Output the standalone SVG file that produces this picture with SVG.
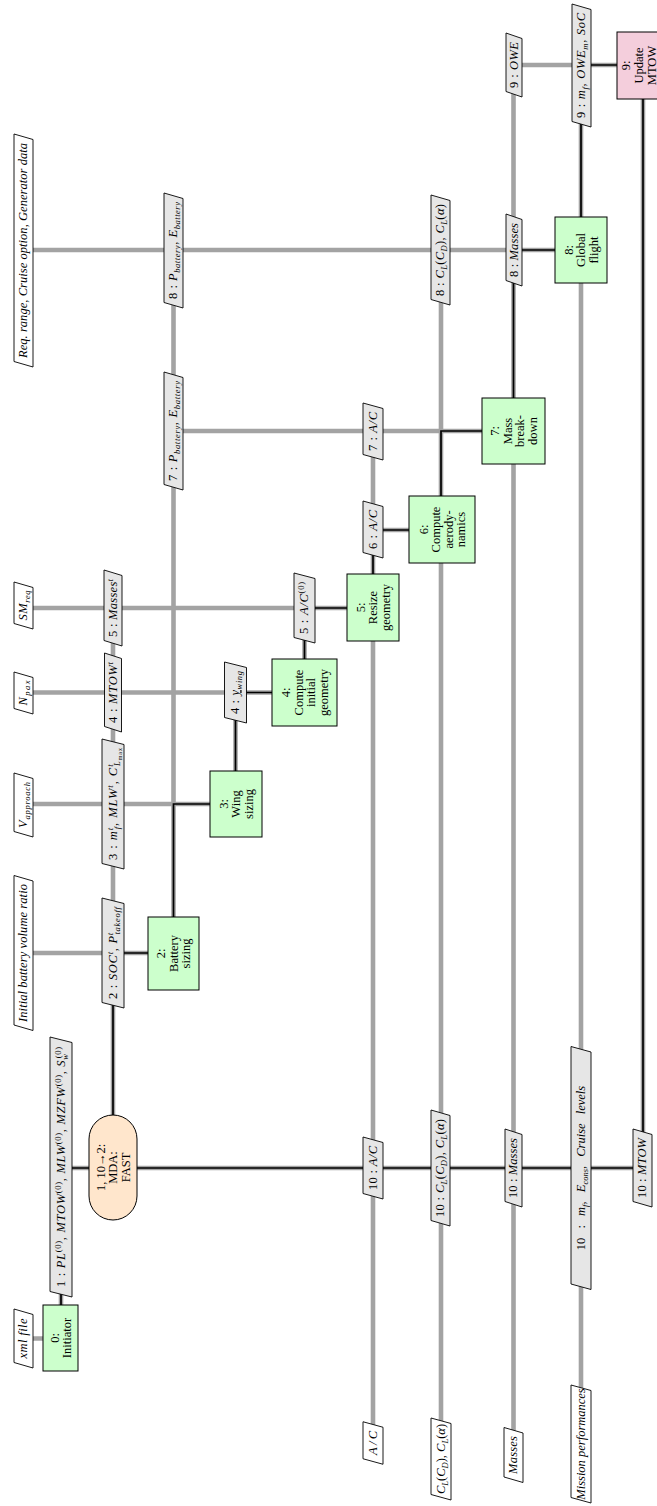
<svg xmlns="http://www.w3.org/2000/svg" width="657" height="1506" viewBox="0 0 657 1506">
<style>
.bg{fill:#fff}
.fn{fill:#ccffcc;stroke:#000;stroke-width:1}
.mda{fill:#ffe6cc;stroke:#000;stroke-width:1}
.up{fill:#f4cedc;stroke:#000;stroke-width:1}
.lb{fill:#e6e6e6;stroke:#000;stroke-width:0.9}
.io{fill:#fff;stroke:#000;stroke-width:0.9}
.dl{fill:none;stroke:#a3a3a3;stroke-width:4.6}
.pl{fill:none;stroke:#000;stroke-width:1.7}
text{font-family:"Liberation Serif","DejaVu Serif",serif;font-size:12.5px;fill:#000}
.nt{font-size:12.5px;text-anchor:middle}
.lt{text-anchor:middle}
.i{font-style:italic}
.sb{font-size:8.5px;baseline-shift:-3px}
.sp{font-size:8.5px;baseline-shift:4.5px}
.ss{font-size:6px;baseline-shift:-5px}
</style>
<rect class="bg" x="0" y="0" width="657" height="1506"/>
<g id="connectors">
<g id="data-lines">
<path class="dl" d="M23,1338.5H61"/>
<path class="dl" d="M61,1168H643"/>
<path class="dl" d="M23,953H173.5"/>
<path class="dl" d="M23,804H235.5"/>
<path class="dl" d="M23,692.5H304.5"/>
<path class="dl" d="M23,608H373"/>
<path class="dl" d="M373,530H441"/>
<path class="dl" d="M173.5,431H513.5"/>
<path class="dl" d="M23,250H581"/>
<path class="dl" d="M513.5,65H643"/>
<path class="dl" d="M61,1168V1338"/>
<path class="dl" d="M113,608V1168"/>
<path class="dl" d="M173.5,250V953"/>
<path class="dl" d="M235.5,692.5V804"/>
<path class="dl" d="M304.5,608V692.5"/>
<path class="dl" d="M373,431V1443"/>
<path class="dl" d="M441,250V1459"/>
<path class="dl" d="M513.5,65V1455"/>
<path class="dl" d="M581,65V1444"/>
<path class="dl" d="M643,65V1168"/>
</g>
<g id="process-lines">
<path class="pl" d="M61,1305V1168H113"/>
<path class="pl" d="M113,1115V953H148"/>
<path class="pl" d="M173.5,917V804H210"/>
<path class="pl" d="M235.5,771V692.5H272"/>
<path class="pl" d="M304.5,659V608H347"/>
<path class="pl" d="M373,574V530H409"/>
<path class="pl" d="M441,496V431H482"/>
<path class="pl" d="M513.5,398V250H555"/>
<path class="pl" d="M581,217V65H617"/>
<path class="pl" d="M643,99V1168H137"/>
</g>
</g>
<g id="labels">
<g id="l1"><polygon class="lb" points="50,1037 72,1042.5 72,1297 50,1291.5"/><text class="lt" transform="translate(64.8,1167) rotate(-90)" textLength="240" lengthAdjust="spacing">1 : <tspan class="i">PL</tspan><tspan class="sp">(0)</tspan>, <tspan class="i">MTOW</tspan><tspan class="sp">(0)</tspan>, <tspan class="i">MLW</tspan><tspan class="sp">(0)</tspan>, <tspan class="i">MZFW</tspan><tspan class="sp">(0)</tspan>, <tspan class="i">S</tspan><tspan class="sb i">w</tspan><tspan class="sp" dx="-5">(0)</tspan></text></g>
<g id="l2"><polygon class="lb" points="102,898 124,903.5 124,1008 102,1002.5"/><text class="lt" transform="translate(116.8,953) rotate(-90)" textLength="92" lengthAdjust="spacing">2 : <tspan class="i">SOC</tspan><tspan class="sp i">t</tspan>, <tspan class="i">P</tspan><tspan class="sp i">t</tspan><tspan class="sb i" dx="-2.4">takeoff</tspan></text></g>
<g id="l3"><polygon class="lb" points="102,739 124,744.5 124,869 102,863.5"/><text class="lt" transform="translate(116.8,804) rotate(-90)" textLength="112" lengthAdjust="spacing">3 : <tspan class="i">m</tspan><tspan class="sp i">t</tspan><tspan class="sb i" dx="-2.4">f</tspan>, <tspan class="i">MLW</tspan><tspan class="sp i">t</tspan>, <tspan class="i">C</tspan><tspan class="sp i">t</tspan><tspan class="sb i" dx="-2.4">L</tspan><tspan class="ss">max</tspan></text></g>
<g id="l4"><polygon class="lb" points="104.5,653 121.5,658.5 121.5,732 104.5,726.5"/><text class="lt" transform="translate(116.8,692.5) rotate(-90)" textLength="61" lengthAdjust="spacing">4 : <tspan class="i">MTOW</tspan><tspan class="sp i">t</tspan></text></g>
<g id="l5"><polygon class="lb" points="104,570 122,575.5 122,646 104,640.5"/><text class="lt" transform="translate(116.8,608) rotate(-90)" textLength="58" lengthAdjust="spacing">5 : <tspan class="i">Masses</tspan><tspan class="sp i">t</tspan></text></g>
<g id="l6"><polygon class="lb" points="164,372 183,377.5 183,490 164,484.5"/><text class="lt" transform="translate(177.3,431) rotate(-90)" textLength="100" lengthAdjust="spacing">7 : <tspan class="i">P</tspan><tspan class="sb i">battery</tspan>, <tspan class="i">E</tspan><tspan class="sb i">battery</tspan></text></g>
<g id="l7"><polygon class="lb" points="164,193 183,198.5 183,308 164,302.5"/><text class="lt" transform="translate(177.3,250.5) rotate(-90)" textLength="97" lengthAdjust="spacing">8 : <tspan class="i">P</tspan><tspan class="sb i">battery</tspan>, <tspan class="i">E</tspan><tspan class="sb i">battery</tspan></text></g>
<g id="l8"><polygon class="lb" points="224.5,662 246.5,667.5 246.5,723 224.5,717.5"/><text class="lt" transform="translate(239.3,692.5) rotate(-90)" textLength="43" lengthAdjust="spacing">4 : <tspan class="i" text-decoration="underline">y</tspan><tspan class="sb i">wing</tspan></text></g>
<g id="l9"><polygon class="lb" points="294,573 315,578.5 315,643 294,637.5"/><text class="lt" transform="translate(308.3,608) rotate(-90)" textLength="52" lengthAdjust="spacing">5 : <tspan class="i">A/C</tspan><tspan class="sp">(0)</tspan></text></g>
<g id="l10"><polygon class="lb" points="363,501 383,506.5 383,558 363,552.5"/><text class="lt" transform="translate(376.8,529.5) rotate(-90)" textLength="39" lengthAdjust="spacing">6 : <tspan class="i">A/C</tspan></text></g>
<g id="l11"><polygon class="lb" points="363,403 383,408.5 383,460 363,454.5"/><text class="lt" transform="translate(376.8,431.5) rotate(-90)" textLength="39" lengthAdjust="spacing">7 : <tspan class="i">A/C</tspan></text></g>
<g id="l12"><polygon class="lb" points="363,1137 383,1142.5 383,1199 363,1193.5"/><text class="lt" transform="translate(376.8,1168) rotate(-90)" textLength="44" lengthAdjust="spacing">10 : <tspan class="i">A/C</tspan></text></g>
<g id="l13"><polygon class="lb" points="431,195 450,200.5 450,305 431,299.5"/><text class="lt" transform="translate(444.3,250) rotate(-90)" textLength="92" lengthAdjust="spacing">8 : <tspan class="i">C</tspan><tspan class="sb i">L</tspan>(<tspan class="i">C</tspan><tspan class="sb i">D</tspan>), <tspan class="i">C</tspan><tspan class="sb i">L</tspan>(<tspan class="i">α</tspan>)</text></g>
<g id="l14"><polygon class="lb" points="431,1110 450,1115.5 450,1226 431,1220.5"/><text class="lt" transform="translate(444.3,1168) rotate(-90)" textLength="98" lengthAdjust="spacing">10 : <tspan class="i">C</tspan><tspan class="sb i">L</tspan>(<tspan class="i">C</tspan><tspan class="sb i">D</tspan>), <tspan class="i">C</tspan><tspan class="sb i">L</tspan>(<tspan class="i">α</tspan>)</text></g>
<g id="l15"><polygon class="lb" points="506,214 522,219.5 522,286 506,280.5"/><text class="lt" transform="translate(517.8,250) rotate(-90)" textLength="54" lengthAdjust="spacing">8 : <tspan class="i">Masses</tspan></text></g>
<g id="l16"><polygon class="lb" points="506,33 522,38.5 522,97 506,91.5"/><text class="lt" transform="translate(517.8,65) rotate(-90)" textLength="46" lengthAdjust="spacing">9 : <tspan class="i">OWE</tspan></text></g>
<g id="l17"><polygon class="lb" points="505,1129 522,1134.5 522,1207 505,1201.5"/><text class="lt" transform="translate(517.3,1168) rotate(-90)" textLength="60" lengthAdjust="spacing">10 : <tspan class="i">Masses</tspan></text></g>
<g id="l18"><polygon class="lb" points="572,4 591,9.5 591,127 572,121.5"/><text class="lt" transform="translate(585.3,65.5) rotate(-90)" textLength="105" lengthAdjust="spacing">9 : <tspan class="i">m</tspan><tspan class="sb i">f</tspan>, <tspan class="i">OWE</tspan><tspan class="sb i">m</tspan>, <tspan class="i">SoC</tspan></text></g>
<g id="l19"><polygon class="lb" points="571,1046.5 591,1052 591,1289.5 571,1284"/><text class="lt" transform="translate(584.8,1168) rotate(-90)" style="word-spacing:6px">10 : <tspan class="i">m</tspan><tspan class="sb i">f</tspan>, <tspan class="i">E</tspan><tspan class="sb i">cons</tspan>, <tspan class="i">Cruise levels</tspan></text></g>
<g id="l20"><polygon class="lb" points="633,1129 652,1134.5 652,1207 633,1201.5"/><text class="lt" transform="translate(646.3,1168) rotate(-90)" textLength="60" lengthAdjust="spacing">10 : <tspan class="i">MTOW</tspan></text></g>
</g>
<g id="inputs">
<g id="in-xml"><polygon class="io" points="14,1309 33,1314.5 33,1368 14,1362.5"/><text class="lt i" transform="translate(27.3,1338.5) rotate(-90)" textLength="40" lengthAdjust="spacing">xml file</text></g>
<g id="in-battery"><polygon class="io" points="14,875.5 33,881 33,1030.5 14,1025"/><text class="lt i" transform="translate(27.3,953) rotate(-90)" textLength="138" lengthAdjust="spacing">Initial battery volume ratio</text></g>
<g id="in-vapp"><polygon class="io" points="14,773 33,778.5 33,837 14,831.5"/><text class="lt" transform="translate(27.3,805) rotate(-90)" textLength="46" lengthAdjust="spacing"><tspan class="i">V</tspan><tspan class="sb i">approach</tspan></text></g>
<g id="in-npax"><polygon class="io" points="14,672 33,677.5 33,714 14,708.5"/><text class="lt" transform="translate(27.3,693) rotate(-90)" textLength="25" lengthAdjust="spacing"><tspan class="i">N</tspan><tspan class="sb i">pax</tspan></text></g>
<g id="in-smreq"><polygon class="io" points="14,582 33,587.5 33,629 14,623.5"/><text class="lt" transform="translate(27.3,605.5) rotate(-90)" textLength="30" lengthAdjust="spacing"><tspan class="i">SM</tspan><tspan class="sb i">req</tspan></text></g>
<g id="in-range"><polygon class="io" points="14,134 33,139.5 33,367 14,361.5"/><text class="lt i" transform="translate(27.3,250.5) rotate(-90)" textLength="215" lengthAdjust="spacing">Req. range, Cruise option, Generator data</text></g>
</g>
<g id="outputs">
<g id="out-ac"><polygon class="io" points="363,1421.75 383,1427.25 383,1464.25 363,1458.75"/><text class="lt i" transform="translate(376.8,1443) rotate(-90)" textLength="24" lengthAdjust="spacing">A/C</text></g>
<g id="out-cl"><polygon class="io" points="431,1418 451,1423.5 451,1500 431,1494.5"/><text class="lt" transform="translate(444.8,1459) rotate(-90)"><tspan class="i">C</tspan><tspan class="sb i">L</tspan>(<tspan class="i">C</tspan><tspan class="sb i">D</tspan>), <tspan class="i">C</tspan><tspan class="sb i">L</tspan>(<tspan class="i">α</tspan>)</text></g>
<g id="out-masses"><polygon class="io" points="504,1427.5 523,1433 523,1482.5 504,1477"/><text class="lt i" transform="translate(517.3,1455) rotate(-90)" textLength="38" lengthAdjust="spacing">Masses</text></g>
<g id="out-mission"><polygon class="io" points="571,1385 591,1390.5 591,1503 571,1497.5"/><text class="lt i" transform="translate(584.8,1444) rotate(-90)" font-size="11.5">Mission performances</text></g>
</g>
<g id="nodes">
<g id="n0-initiator"><rect class="fn" x="43" y="1305" width="35" height="66"/><text class="nt" transform="translate(60.5,1338) rotate(-90)"><tspan x="0" y="-1.95">0:</tspan><tspan x="0" y="10.55">Initiator</tspan></text></g>
<g id="n1-mda"><rect class="mda" x="89" y="1115" width="48" height="105" rx="24" ry="24"/><text class="nt" transform="translate(113,1167.5) rotate(-90)"><tspan x="0" y="-8.2">1, 10→2:</tspan><tspan x="0" y="4.3">MDA:</tspan><tspan x="0" y="16.8">FAST</tspan></text></g>
<g id="n2-battery"><rect class="fn" x="148" y="917" width="51" height="73"/><text class="nt" transform="translate(173.5,953.5) rotate(-90)"><tspan x="0" y="-8.2">2:</tspan><tspan x="0" y="4.3">Battery</tspan><tspan x="0" y="16.8">sizing</tspan></text></g>
<g id="n3-wing"><rect class="fn" x="210" y="771" width="52" height="66"/><text class="nt" transform="translate(236,804) rotate(-90)"><tspan x="0" y="-8.2">3:</tspan><tspan x="0" y="4.3">Wing</tspan><tspan x="0" y="16.8">sizing</tspan></text></g>
<g id="n4-initgeom"><rect class="fn" x="272" y="659" width="65" height="67"/><text class="nt" transform="translate(304.5,692.5) rotate(-90)"><tspan x="0" y="-14.45">4:</tspan><tspan x="0" y="-1.95">Compute</tspan><tspan x="0" y="10.55">initial</tspan><tspan x="0" y="23.05">geometry</tspan></text></g>
<g id="n5-resize"><rect class="fn" x="347" y="574" width="52" height="67"/><text class="nt" transform="translate(373,607.5) rotate(-90)"><tspan x="0" y="-8.2">5:</tspan><tspan x="0" y="4.3">Resize</tspan><tspan x="0" y="16.8">geometry</tspan></text></g>
<g id="n6-aero"><rect class="fn" x="409" y="496" width="66" height="67"/><text class="nt" transform="translate(442,529.5) rotate(-90)"><tspan x="0" y="-14.45">6:</tspan><tspan x="0" y="-1.95">Compute</tspan><tspan x="0" y="10.55">aerody-</tspan><tspan x="0" y="23.05">namics</tspan></text></g>
<g id="n7-mass"><rect class="fn" x="482" y="398" width="63" height="66"/><text class="nt" transform="translate(513.5,431) rotate(-90)"><tspan x="0" y="-14.45">7:</tspan><tspan x="0" y="-1.95">Mass</tspan><tspan x="0" y="10.55">break-</tspan><tspan x="0" y="23.05">down</tspan></text></g>
<g id="n8-global"><rect class="fn" x="555" y="217" width="52" height="66"/><text class="nt" transform="translate(581,250) rotate(-90)"><tspan x="0" y="-8.2">8:</tspan><tspan x="0" y="4.3">Global</tspan><tspan x="0" y="16.8">flight</tspan></text></g>
<g id="n9-update"><rect class="up" x="617" y="32" width="52" height="67"/><text class="nt" transform="translate(640.5,65.5) rotate(-90)"><tspan x="0" y="-10.2">9:</tspan><tspan x="0" y="2.8">Update</tspan><tspan x="0" y="15.3">MTOW</tspan></text></g>
</g>
</svg>
